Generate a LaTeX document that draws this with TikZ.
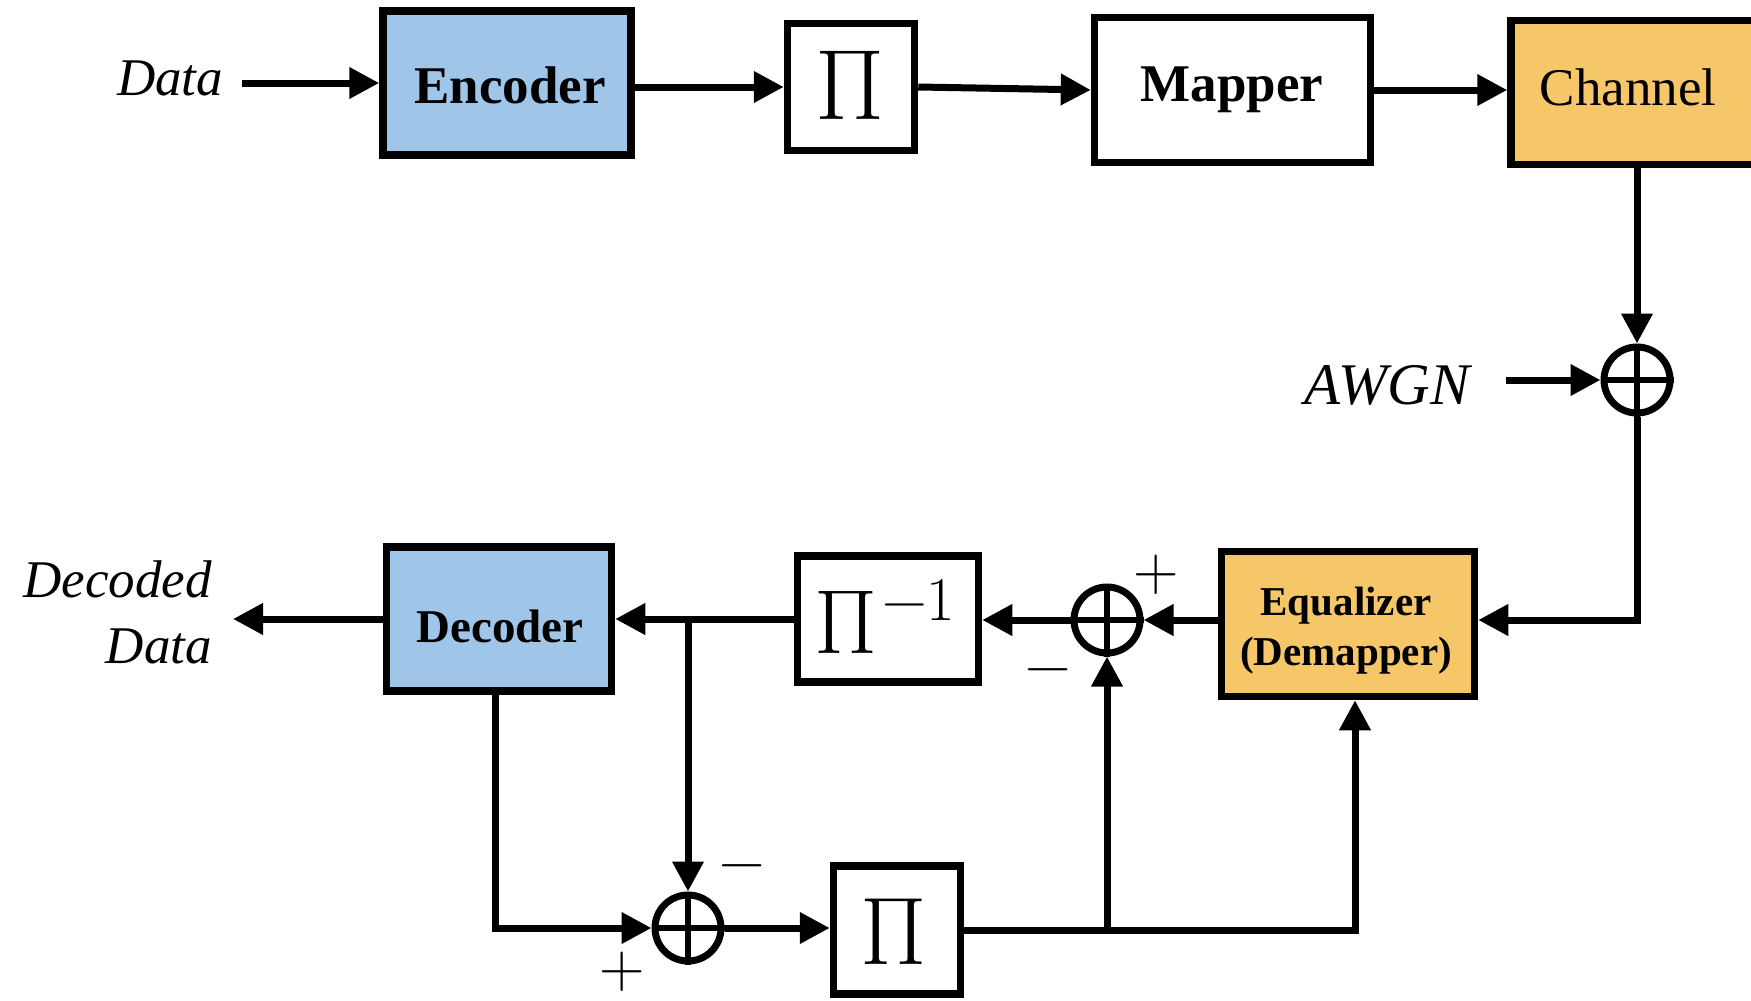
\documentclass[tikz,border=0pt]{standalone}
\usepackage{fontspec}
\setmainfont{Liberation Serif}
\newfontfamily\lmfont{Latin Modern Roman}
\usetikzlibrary{arrows.meta}

\definecolor{codeblue}{HTML}{9FC5E8}
\definecolor{chanorange}{HTML}{F6C768}

\newcommand\fsz[1]{\fontsize{#1}{#1}\selectfont}

\tikzset{
  blk/.style={draw, line width=7.5pt, inner sep=0pt},
  txt/.style={inner sep=0pt, anchor=base},
  conn/.style={line width=7pt, -{Triangle[length=30pt,width=30pt]}},
  summer/.style={circle, draw, line width=7pt, minimum size=66pt, inner sep=0pt},
  cross/.style={line width=6pt},
  sgn/.style={inner sep=0pt, font=\lmfont\fsz{63}}
}

\begin{document}
\begin{tikzpicture}[x=1pt, y=-1pt]
  \useasboundingbox (0,0) rectangle (1751,1001);
  \clip (0,0) rectangle (1751,1001);

  % transmitter chain
  \node[txt, font=\fsz{53}\itshape] (data) at (170,95) {Data};
  \node[blk, fill=codeblue, minimum width=248pt, minimum height=144pt] (enc) at (507,83) {};
  \node[txt, font=\fsz{53}\bfseries] (enc-t) at (510,103) {Encoder};
  \node[blk, minimum width=127pt, minimum height=127pt] (pi1) at (851,87) {};
  \node[txt, font=\lmfont\fsz{100}] (pi1-t) at (850,119) {Π};
  \node[blk, minimum width=276pt, minimum height=145pt] (map) at (1232.5,90) {};
  \node[txt, font=\fsz{53}\bfseries] (map-t) at (1232,101) {Mapper};
  \node[blk, fill=chanorange, minimum width=290pt, minimum height=144pt] (chan) at (1656,92.5) {};
  \node[txt, font=\fsz{53}] (chan-t) at (1628,105) {Channel};

  % noise adder
  \node[summer] (c1) at (1637,380) {};
  \node[txt, font=\fsz{59}\itshape] (awgn) at (1387,404) {AWGN};

  % receiver chain
  \node[blk, fill=chanorange, minimum width=253pt, minimum height=145pt] (eq) at (1348,624) {};
  \node[txt, font=\fsz{41}\bfseries] (eq-t1) at (1346,615) {Equalizer};
  \node[txt, font=\fsz{41}\bfseries] (eq-t2) at (1346,665) {(Demapper)};
  \node[summer] (c2) at (1107,620) {};
  \node[sgn] (c2-p) at (1156,575) {+};
  \node[sgn] (c2-m) at (1048,677) {−};
  \node[blk, minimum width=181pt, minimum height=126pt] (pinv) at (888,619) {};
  \node[txt, anchor=base west, font=\lmfont\fsz{91}] (pinv-t) at (814,653)
    {Π\kern5pt\raisebox{33pt}{\fsz{62}−1}};
  \node[blk, fill=codeblue, minimum width=225pt, minimum height=144pt] (dec) at (499,619) {};
  \node[txt, font=\fsz{47}\bfseries] (dec-t) at (500,642) {Decoder};
  \node[txt, anchor=base east, font=\fsz{53}\itshape] (dd1) at (212,597) {Decoded};
  \node[txt, anchor=base east, font=\fsz{53}\itshape] (dd2) at (212,663) {Data};

  % feedback path
  \node[summer] (c3) at (688,928) {};
  \node[sgn] (c3-m) at (742,873) {−};
  \node[sgn] (c3-p) at (622,972) {+};
  \node[blk, minimum width=127pt, minimum height=128pt] (pi2) at (897,930) {};
  \node[txt, font=\lmfont\fsz{96}] (pi2-t) at (894,964) {Π};

  % crosses inside the adders
  \foreach \c in {c1,c2,c3}
    \draw[cross] (\c.north) -- (\c.south) (\c.west) -- (\c.east);

  % connectors
  \coordinate (d-in) at (242,83);
  \coordinate (n-in) at (1506,380);
  \coordinate (d-out) at (233,619);

  \draw[conn] (d-in) -- (enc.west);
  \draw[conn] (enc.east |- pi1) -- (pi1.west);
  \draw[conn] (pi1.east) -- (map.west);
  \draw[conn] (map.east) -- (map.east -| chan.west);
  \draw[conn] (c1 |- chan.south) -- (c1.north);
  \draw[conn] (n-in) -- (c1.west);
  \draw[conn] (c1.south) -- (c1 |- c2) -- (eq.east |- c2);
  \draw[conn] (eq.west |- c2) -- (c2.east);
  \draw[conn] (c2.west) -- (c2 -| pinv.east);
  \draw[conn] (pinv.west) -- (dec.east);
  \draw[conn] (dec.west) -- (d-out);
  \draw[conn] (c3 |- dec.east) -- (c3.north);
  \draw[conn] ([xshift=-4pt]dec.south) |- (c3.west);
  \draw[conn] (c3.east) -- (c3 -| pi2.west);
  \draw[conn] (pi2.east) -| ([xshift=7pt]eq.south);
  \draw[conn] (c2 |- pi2.east) -- (c2.south);
\end{tikzpicture}
\end{document}
